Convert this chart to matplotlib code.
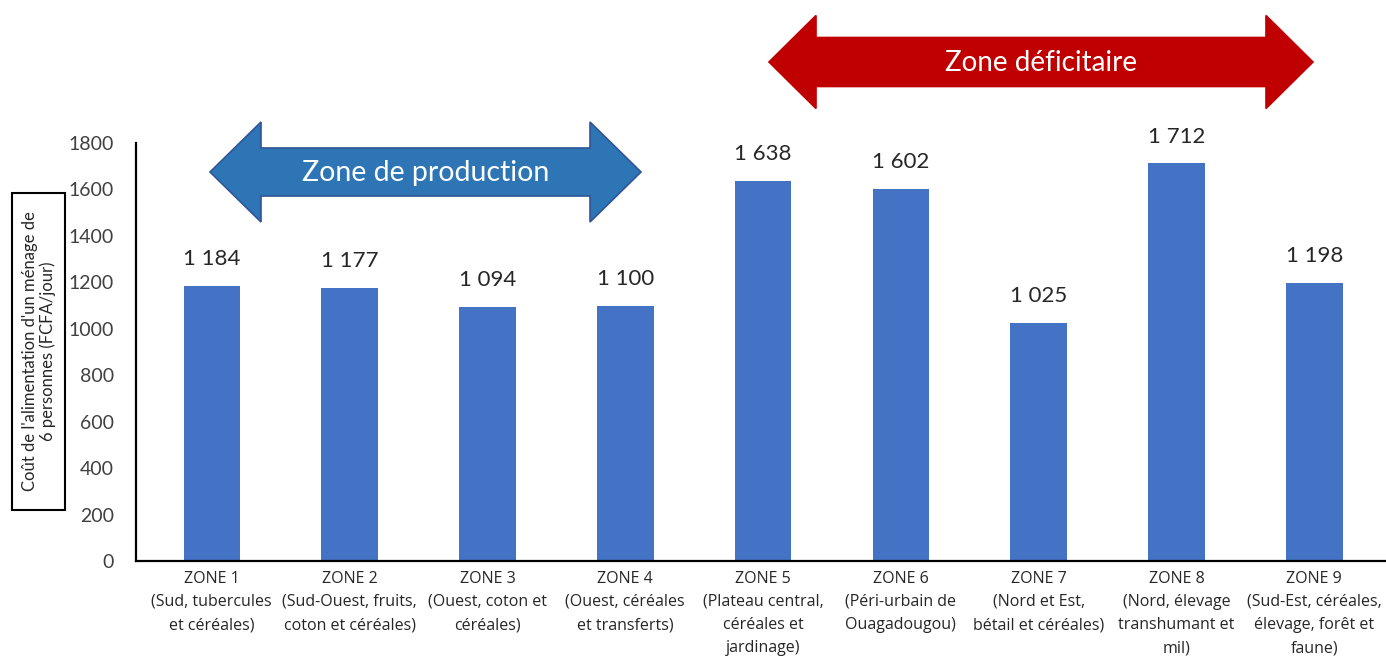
import matplotlib
matplotlib.use("Agg")
import matplotlib.pyplot as plt
from matplotlib.patches import Polygon, Rectangle

zones = ["ZONE 1", "ZONE 2", "ZONE 3", "ZONE 4", "ZONE 5",
         "ZONE 6", "ZONE 7", "ZONE 8", "ZONE 9"]
details = ["(Sud, tubercules\net céréales)",
           "(Sud-Ouest, fruits,\ncoton et céréales)",
           "(Ouest, coton et\ncéréales)",
           "(Ouest, céréales\net transferts)",
           "(Plateau central,\ncéréales et\njardinage)",
           "(Péri-urbain de\nOuagadougou)",
           "(Nord et Est,\nbétail et céréales)",
           "(Nord, élevage\ntranshumant et\nmil)",
           "(Sud-Est, céréales,\nélevage, forêt et\nfaune)"]
costs = [1184, 1177, 1094, 1100, 1638, 1602, 1025, 1712, 1198]
yticks = [0, 200, 400, 600, 800, 1000, 1200, 1400, 1600, 1800]

plt.rcParams['font.family'] = ['Lato', 'DejaVu Sans']

W, H = 1386, 664
fig = plt.figure(figsize=(W / 100, H / 100), dpi=100)
ax = fig.add_axes([136 / W, 1 - 561 / H, 1 - 136 / W, (561 - 143) / H])

x = list(range(len(costs)))
ax.bar(x, costs, width=0.41, color="#4472C4")
for xi, v in zip(x, costs):
    lab = "{:,}".format(v).replace(",", " ")
    ax.annotate(lab, (xi, v), xytext=(0, 12), textcoords="offset points",
                ha="center", va="bottom", fontsize=16, color="#262626")

ax.set_xlim(-0.55, 8.52)
ax.set_ylim(0, 1800)
ax.set_yticks(yticks)
ax.set_yticklabels([str(t) for t in yticks], fontsize=14, color="#404040")
ax.set_xticks(x)
ax.set_xticklabels([z + "\n" + d for z, d in zip(zones, details)],
                   fontsize=11.5, color="#262626", linespacing=1.6,
                   family=["Open Sans", "DejaVu Sans"])
ax.tick_params(length=0)
ax.tick_params(axis="y", pad=16)
ax.tick_params(axis="x", pad=7)
for s in ["top", "right"]:
    ax.spines[s].set_visible(False)
ax.spines["left"].set_linewidth(1.6)
ax.spines["bottom"].set_linewidth(1.6)

# overlay in pixel coordinates for the annotation shapes
ov = fig.add_axes([0, 0, 1, 1], facecolor="none")
ov.set_xlim(0, W)
ov.set_ylim(H, 0)
ov.axis("off")


def double_arrow(x0, x1, yc, head_h, body_h, head_w, face, edge, text, size):
    pts = [(x0, yc), (x0 + head_w, yc - head_h / 2), (x0 + head_w, yc - body_h / 2),
           (x1 - head_w, yc - body_h / 2), (x1 - head_w, yc - head_h / 2), (x1, yc),
           (x1 - head_w, yc + head_h / 2), (x1 - head_w, yc + body_h / 2),
           (x0 + head_w, yc + body_h / 2), (x0 + head_w, yc + head_h / 2)]
    ov.add_patch(Polygon(pts, closed=True, facecolor=face, edgecolor=edge, linewidth=1.2))
    ov.text((x0 + x1) / 2, yc + 1, text, ha="center", va="center",
            color="white", fontsize=size)


double_arrow(210, 641, 172, 100, 48, 51, "#2E75B6", "#2F5597", "Zone de production", 20.5)
double_arrow(769, 1313, 62, 93, 49, 47, "#C00000", "#C00000", "Zone déficitaire", 20)

# y label in a box
ov.add_patch(Rectangle((12, 193), 53, 317, facecolor="white", edgecolor="black", linewidth=1.5))
ov.text(39, 351, "Coût de l'alimentation d'un ménage de\n6 personnes (FCFA/jour)",
        rotation=90, ha="center", va="center", fontsize=12, color="#262626",
        linespacing=1.15)

fig.savefig("out.png", dpi=100)
